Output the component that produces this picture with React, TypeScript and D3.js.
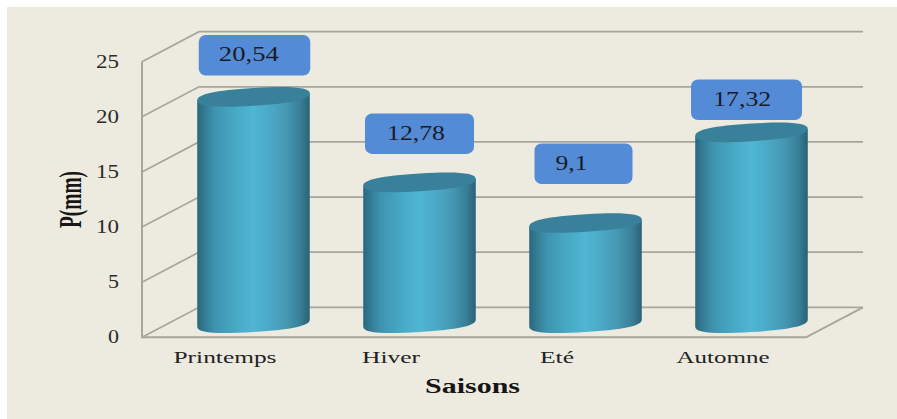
import React from "react";
import * as d3 from "d3";

// Seasonal precipitation, one value per season
const seasons = ["Printemps", "Hiver", "Eté", "Automne"];
const rainfall = [20.54, 12.78, 9.1, 17.32];
const valueLabels = ["20,54", "12,78", "9,1", "17,32"];
const yTicks = [0, 5, 10, 15, 20, 25];

// Label box placement relative to each cylinder
const boxWidths = [111.5, 109, 98, 111];
const boxGaps = [21.4, 28.5, 39, 12.4];
const boxShifts = [1, 0, -2, -5];
const textShifts = [-5.7, -3.5, -12, -4.3];
const valueTextWidths = [60, 58, 32, 58];
const seasonTextWidths = [103, 58, 34, 93];
const tickTextWidths = [11, 11, 23, 23, 23, 23];

const WIDTH = 897;
const HEIGHT = 419;
const DEPTH_X = 57;
const DEPTH_Y = 30;
const BOX_HEIGHT = 40.5;
const BG = "#edebe0";
const GRID = "#a8a59c";
const FONT = "'Liberation Serif', serif";
// Bezier handle ratio above the circular 0.552, giving the caps blunter ends
const CAP_KAPPA = 0.68;

const x = d3.scaleBand<string>().domain(seasons).range([142, 806]);
const y = d3.scaleLinear().domain([0, 25]).range([337.3, 61.7]);

const sideStops: [number, string][] = [
  [0, "#2b687c"],
  [0.07, "#347c95"],
  [0.16, "#3f94b0"],
  [0.32, "#46a7c3"],
  [0.5, "#4fb6d3"],
  [0.62, "#4bacc9"],
  [0.78, "#4699b4"],
  [0.91, "#39809a"],
  [1, "#2a6275"],
];

// Half of a cap outline, from (-rx, cy) to (rx, cy) on the side given by dir
function capArc(path: d3.Path, rx: number, ry: number, cy: number, dir: 1 | -1) {
  const kx = rx * CAP_KAPPA;
  const ky = ry * CAP_KAPPA;
  path.bezierCurveTo(-rx, cy + dir * ky, -kx, cy + dir * ry, 0, cy + dir * ry);
  path.bezierCurveTo(kx, cy + dir * ry, rx, cy + dir * ky, rx, cy);
}

function Cylinder({ season, value }: { season: string; value: number }) {
  const rx = x.bandwidth() * 0.339;
  const ry = 8.8;
  const cx = (x(season) as number) + x.bandwidth() / 2 + DEPTH_X / 2;
  const base = y(0) - 14;
  const h = base - (y(value) - 14);

  const side = d3.path();
  side.moveTo(-rx, -h);
  side.lineTo(-rx, 0);
  capArc(side, rx, ry, 0, 1);
  side.lineTo(rx, -h);
  side.closePath();

  const cap = d3.path();
  cap.moveTo(-rx, -h);
  capArc(cap, rx, ry, -h, 1);
  const kx = rx * CAP_KAPPA;
  const ky = ry * CAP_KAPPA;
  cap.bezierCurveTo(rx, -h - ky, kx, -h - ry, 0, -h - ry);
  cap.bezierCurveTo(-kx, -h - ry, -rx, -h - ky, -rx, -h);
  cap.closePath();

  return (
    <g transform={`translate(${cx},${base}) skewY(-3.5)`}>
      <path d={side.toString()} fill="url(#cylSide)" />
      <path d={cap.toString()} fill="#39819a" />
    </g>
  );
}

export default function App() {
  const yBack = (v: number) => y(v) - DEPTH_Y;
  const xFront0 = x.range()[0];
  const xFront1 = x.range()[1];
  const xBack0 = xFront0 + DEPTH_X;
  const xBack1 = xFront1 + DEPTH_X;

  return (
    <svg
      width={WIDTH}
      height={HEIGHT}
      viewBox={`0 0 ${WIDTH} ${HEIGHT}`}
      style={{ position: "absolute", left: 0, top: 0, background: "#fff" }}
    >
      <defs>
        <linearGradient id="cylSide" x1="0" x2="1" y1="0" y2="0">
          {sideStops.map(([o, c]) => (
            <stop key={o} offset={o} stopColor={c} />
          ))}
        </linearGradient>
      </defs>
      <rect x={7} y={7} width={WIDTH - 7} height={HEIGHT - 7} fill={BG} />

      {/* Walls: ticks run along the side wall, then across the back */}
      {yTicks.map((t) => (
        <path
          key={t}
          d={`M${xFront0},${y(t)}L${xBack0},${yBack(t)}L${xBack1},${yBack(t)}`}
          fill="none"
          stroke={GRID}
          strokeWidth={1.7}
        />
      ))}
      {/* Floor edges and the vertical axis */}
      <path
        d={`M${xFront0},${y(25)}L${xFront0},${y(0)}L${xFront1},${y(0)}L${xBack1},${yBack(0)}`}
        fill="none"
        stroke={GRID}
        strokeWidth={2}
      />

      {seasons.map((s, i) => (
        <Cylinder key={s} season={s} value={rainfall[i]} />
      ))}

      {/* Value callouts */}
      {seasons.map((s, i) => {
        const cx = (x(s) as number) + x.bandwidth() / 2 + DEPTH_X / 2;
        const boxCx = cx + boxShifts[i];
        const boxBottom = y(rainfall[i]) - 14 - boxGaps[i];
        return (
          <g key={s}>
            <rect
              x={boxCx - boxWidths[i] / 2}
              y={boxBottom - BOX_HEIGHT}
              width={boxWidths[i]}
              height={BOX_HEIGHT}
              rx={7}
              fill="#548bd6"
            />
            <text
              x={boxCx + textShifts[i]}
              y={boxBottom - 14}
              textAnchor="middle"
              fontFamily={FONT}
              fontSize={20.5}
              fill="#1b1b28"
              textLength={valueTextWidths[i]}
              lengthAdjust="spacingAndGlyphs"
            >
              {valueLabels[i]}
            </text>
          </g>
        );
      })}

      {/* Value axis labels */}
      {yTicks.map((t, i) => (
        <text
          key={t}
          x={119}
          y={y(t) + 6}
          textAnchor="end"
          fontFamily={FONT}
          fontSize={18}
          fill="#2b2b2b"
          textLength={tickTextWidths[i]}
          lengthAdjust="spacingAndGlyphs"
        >
          {t}
        </text>
      ))}

      {/* Category labels */}
      {seasons.map((s, i) => (
        <text
          key={s}
          x={(x(s) as number) + x.bandwidth() / 2}
          y={363}
          textAnchor="middle"
          fontFamily={FONT}
          fontSize={17.5}
          fill="#222"
          textLength={seasonTextWidths[i]}
          lengthAdjust="spacingAndGlyphs"
        >
          {s}
        </text>
      ))}

      <text
        x={472.5}
        y={392.5}
        textAnchor="middle"
        fontFamily={FONT}
        fontWeight="bold"
        fontSize={20}
        fill="#161616"
        textLength={95}
        lengthAdjust="spacingAndGlyphs"
      >
        Saisons
      </text>

      <g transform="translate(80.5,228) rotate(-90) scale(1,1.7)">
        <text
          x={0}
          y={0}
          fontFamily={FONT}
          fontWeight="bold"
          fontSize={18}
          fill="#161616"
          textLength={57}
          lengthAdjust="spacingAndGlyphs"
        >
          P(mm)
        </text>
      </g>
    </svg>
  );
}
